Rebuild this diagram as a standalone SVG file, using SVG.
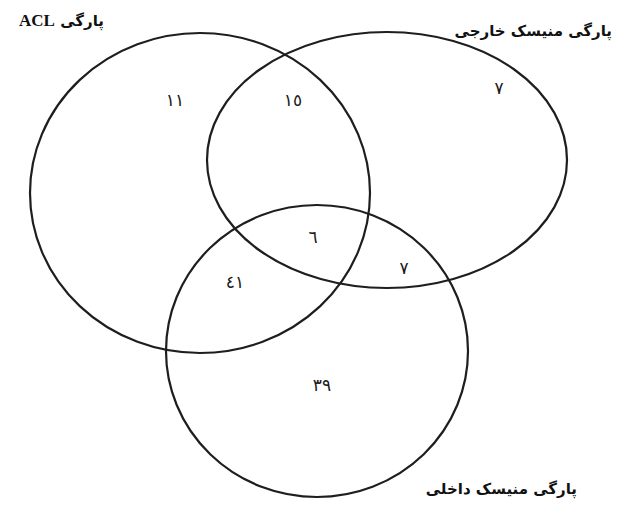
<svg xmlns="http://www.w3.org/2000/svg" width="618" height="506" viewBox="0 0 618 506">
<style>
.c{fill:none;stroke:#1e1e1e;stroke-width:2.2}
.lbl{font-family:"DejaVu Sans","Noto Sans",sans-serif;font-weight:bold;font-size:15px;fill:#111}
.num{font-family:"DejaVu Sans","Noto Sans",sans-serif;font-size:17px;fill:#1a1a1a;text-anchor:middle}
</style>
<rect width="618" height="506" fill="#ffffff"/>
<g id="connectors"></g>
<g id="acl">
<ellipse class="c" cx="200" cy="193" rx="170" ry="160"/>
<text x="104" y="26" class="lbl" direction="rtl" text-anchor="start">پارگی <tspan font-family="Liberation Serif,serif" font-size="17">ACL</tspan></text>
</g>
<g id="outer">
<ellipse class="c" cx="387" cy="160" rx="180" ry="128"/>
<text x="612" y="36" class="lbl" direction="rtl" text-anchor="start">پارگی منیسک خارجی</text>
</g>
<g id="inner">
<ellipse class="c" cx="317" cy="351" rx="151" ry="146"/>
<text x="577" y="494" class="lbl" direction="rtl" text-anchor="start">پارگی منیسک داخلی</text>
</g>
<g id="numbers">
<text class="num" x="175" y="106">١١</text>
<text class="num" x="293" y="106">١٥</text>
<text class="num" x="499" y="94">٧</text>
<text class="num" x="313" y="243">٦</text>
<text class="num" x="404" y="274">٧</text>
<text class="num" x="235" y="288">٤١</text>
<text class="num" x="322" y="391" font-size="14">٣٩</text>
</g>
</svg>
